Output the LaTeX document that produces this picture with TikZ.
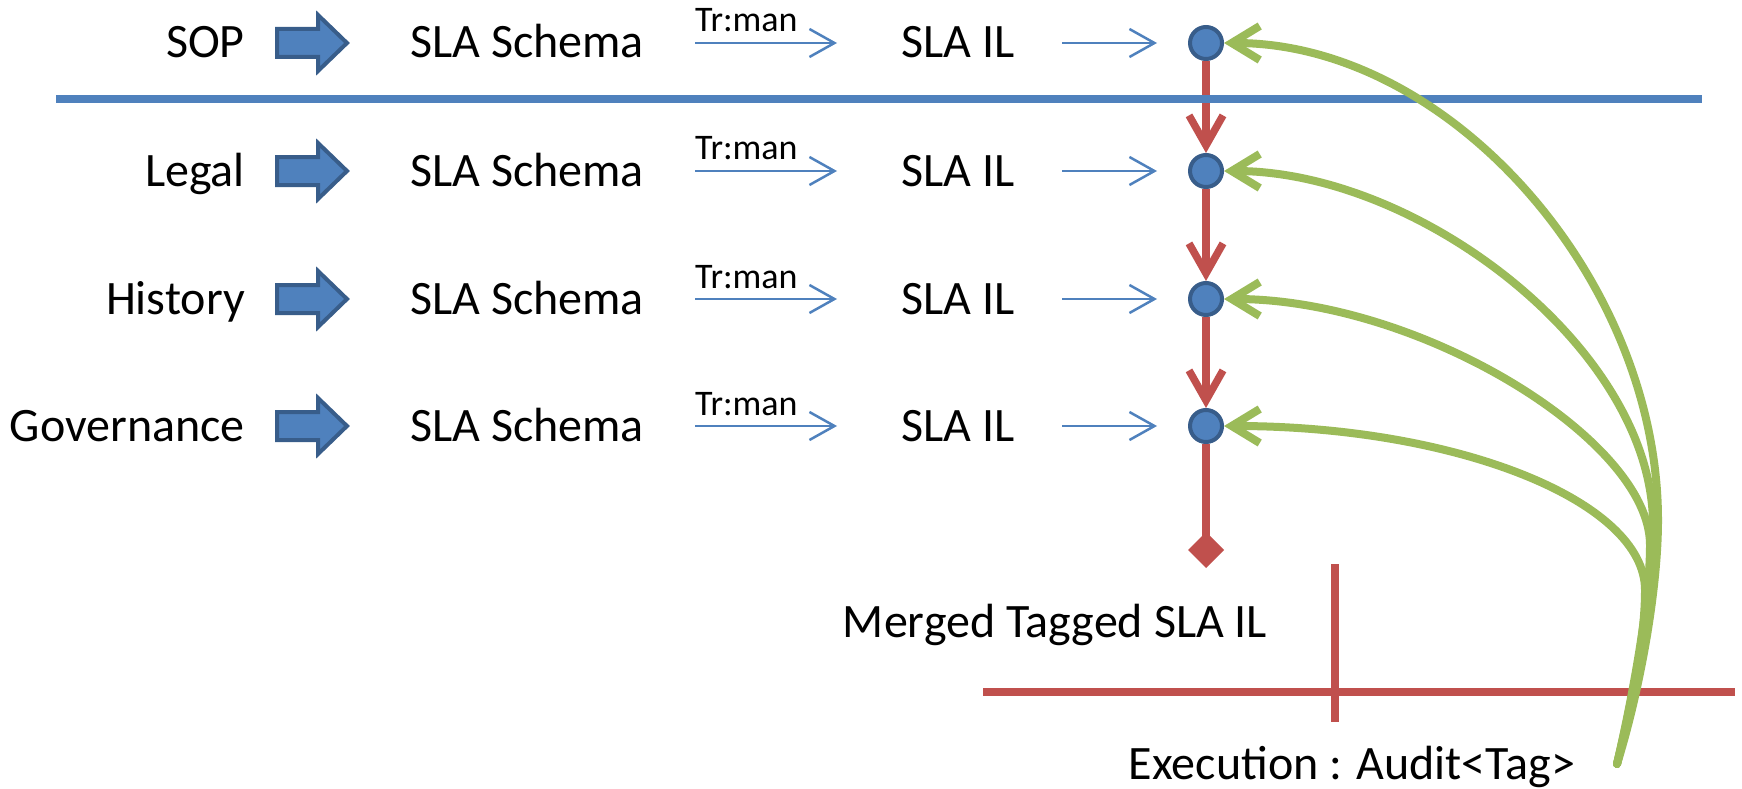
\documentclass[tikz,border=0pt]{standalone}
\usepackage{fontspec}
\setmainfont{Carlito}
\usetikzlibrary{arrows.meta}
\definecolor{ablue}{HTML}{4F81BD}
\definecolor{dblue}{HTML}{385D8A}
\definecolor{ared}{HTML}{C0504D}
\definecolor{agreen}{HTML}{9BBB59}
\tikzset{
 lbl/.style={anchor=base east, font=\fontsize{48}{58}\selectfont, inner sep=0pt},
 txt/.style={anchor=base, font=\fontsize{48}{58}\selectfont, inner sep=0pt},
 small/.style={anchor=base west, font=\fontsize{36}{43}\selectfont, inner sep=0pt},
 thinarr/.style={draw=ablue, line width=2.5pt, -{Straight Barb[length=25pt,width=28pt]}},
 dot/.style={circle, fill=ablue, draw=dblue, line width=4pt, minimum size=32pt, inner sep=0pt},
 redarr/.style={draw=ared, line width=7.5pt, -{Straight Barb[length=30pt,width=34pt]}},
 redline/.style={draw=ared, line width=7.5pt},
 blueline/.style={draw=ablue, line width=8pt},
 greenarr/.style={draw=agreen, line width=8pt, line cap=round, -{Straight Barb[length=28pt,width=34pt]}},
 barrow/.pic={\draw[fill=ablue, draw=dblue, line width=4pt, line join=miter] (0,-14) -- (41,-14) -- (41,-28) -- (70,0) -- (41,28) -- (41,14) -- (0,14) -- cycle;}
}
\begin{document}
\begin{tikzpicture}[x=1pt,y=-1pt]
\useasboundingbox (0,0) rectangle (1742,789);
\foreach \i/\y/\nm in {1/43/SOP,2/171/Legal,3/299/History,4/426/Governance}{
 \node[lbl] (l\i) at (245,{\y+15}) {\nm};
 \pic at (277,\y) {barrow};
 \node[txt] (s\i) at (527,{\y+15}) {SLA Schema};
 \coordinate (ta\i) at (695,\y);
 \coordinate (tb\i) at (837,\y);
 \draw[thinarr] (ta\i) -- (tb\i);
 \node[small] (tr\i) at (695,{\y-11}) {Tr:man};
 \node[txt] (i\i) at (958,{\y+15}) {SLA IL};
 \node[dot] (c\i) at (1206,\y) {};
 \coordinate (ua\i) at (1062,\y);
 \draw[thinarr, shorten >=31pt] (ua\i) -- (c\i.west);
}
% red chain
\draw[redarr] (c1) -- (c2);
\draw[redarr] (c2) -- (c3);
\draw[redarr] (c3) -- (c4);
\coordinate (dend) at (1206,568);
\draw[redline, -{Diamond[length=36pt,width=36pt]}] (c4) -- (dend);
% blue separator
\coordinate (bl1) at (56,99);
\coordinate (bl2) at (1702,99);
\draw[blueline] (bl1) -- (bl2);
% texts
\node[txt] (merged) at (1055,637) {Merged Tagged SLA IL};
\node[txt] (exec) at (1352,779) {Execution : Audit<Tag>};
% red cross lines
\coordinate (hl1) at (983,692);
\coordinate (hl2) at (1735,692);
\draw[redline] (hl1) -- (hl2);
\coordinate (vl1) at (1335,564);
\coordinate (vl2) at (1335,722);
\draw[redline] (vl1) -- (vl2);
% green arrows
\coordinate (gs) at (1617,764);
\draw[greenarr] (gs) .. controls (1632,700) and (1645,640) .. (1645,590) .. controls (1645,501) and (1456,426) .. (c4.east);
\draw[greenarr] (gs) .. controls (1634,690) and (1650,600) .. (1650,545) .. controls (1650,440) and (1420,299) .. (c3.east);
\draw[greenarr] (gs) .. controls (1636,690) and (1653,590) .. (1653,525) .. controls (1653,350) and (1420,171) .. (c2.east);
\draw[greenarr] (gs) .. controls (1640,690) and (1658,590) .. (1658,520) .. controls (1658,280) and (1450,43) .. (c1.east);
\end{tikzpicture}
\end{document}
